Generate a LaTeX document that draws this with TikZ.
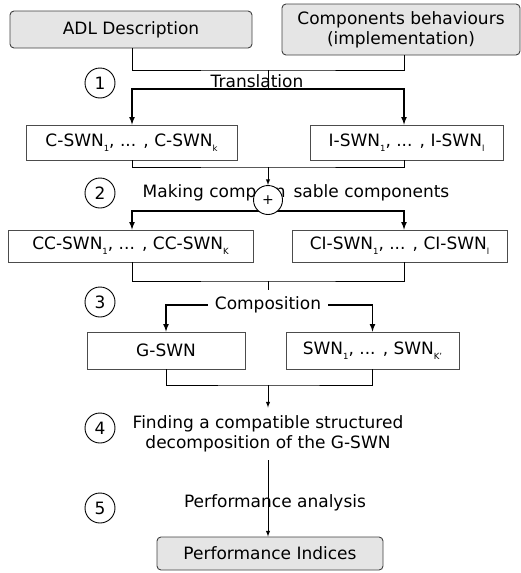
\documentclass[tikz,border=0pt]{standalone}
\usepackage{fontspec}
\setmainfont{DejaVu Sans}
\usetikzlibrary{calc}
\newcommand{\idx}[1]{\raisebox{-0.5ex}{\fontsize{8.5}{9}\selectfont #1}}

\begin{document}
\begin{tikzpicture}[
    x=1pt, y=-1pt,
    every node/.style={font=\fontsize{17}{20}\selectfont},
    io/.style={draw=black!75, fill=black!10, rounded corners=4pt, line width=0.9pt, inner sep=0pt},
    net/.style={draw=black!70, fill=white, line width=0.8pt, inner sep=0pt},
    num/.style={draw, circle, line width=0.9pt, minimum size=30pt, inner sep=0pt},
    link/.style={black, line width=0.9pt},
    arrowline/.style={black, line width=1.6pt, ->, >=latex},
    thinarrow/.style={black, line width=1pt, ->, >=latex},
    ]
    \useasboundingbox (0,0) rectangle (521,573);

    \coordinate (colL) at (132,0);
    \coordinate (colR) at (404,0);

    % step 1
    \node[io, minimum width=242pt, minimum height=37pt] (adl) at (131,29.5) {ADL Description};
    \node[io, minimum width=238pt, minimum height=51pt, align=center] (beh) at (401,29.5) {Components behaviours\\(implementation)};
    \node[num] (s1) at (100,83) {1};
    \node[anchor=base, inner sep=0pt] (trans) at (257,87) {Translation};
    \coordinate (j1) at (268,70);
    \coordinate (t1) at (268,89);
    \node[net, minimum width=211pt, minimum height=35pt] (cswn) at (131.5,142.5) {C-SWN\idx{1}, ... , C-SWN\idx{k}};
    \node[net, minimum width=193pt, minimum height=35pt] (iswn) at (406.5,142.5) {I-SWN\idx{1}, ... , I-SWN\idx{l}};

    \draw[link] (adl.south -| colL) |- (j1) -| (beh.south -| colR);
    \draw[link] (j1) -- (t1);
    \draw[arrowline] (t1) -| (colL |- cswn.north);
    \draw[arrowline] (t1) -| (colR |- iswn.north);

    % step 2
    \node[num] (s2) at (100,193) {2};
    \node[anchor=west, inner sep=0pt] (mk) at (142.5,193) {Making compo\hspace{8pt}n\hspace{8pt}sable components};
    \coordinate (j2) at (268,167);
    \coordinate (t2) at (268,211);
    \node[net, minimum width=245pt, minimum height=32pt] (ccswn) at (130.5,246) {CC-SWN\idx{1}, ... , CC-SWN\idx{K}};
    \node[net, minimum width=215pt, minimum height=32pt] (ciswn) at (399.5,246) {CI-SWN\idx{1}, ... , CI-SWN\idx{l}};

    \draw[link] (cswn.south -| colL) |- (j2) -| (iswn.south -| colR);
    \draw[arrowline] (t2) -| (colL |- ccswn.north);
    \draw[arrowline] (t2) -| (colR |- ciswn.north);
    \node[num, minimum size=29pt, fill=white, font=\fontsize{14}{14}\selectfont] (plus) at (268,200) {+};
    \draw[thinarrow] (j2) -- (plus.north);

    % step 3
    \node[num] (s3) at (100,302) {3};
    \coordinate (j3) at (268,281);
    \coordinate (t3) at (268,290);
    \node[inner xsep=7pt] (compo) at (268,305) {Composition};
    \node[net, minimum width=158pt, minimum height=37pt] (gswn) at (166,350.5) {G-SWN};
    \node[net, minimum width=173pt, minimum height=37pt] (swn) at (372.5,350.5) {SWN\idx{1}, ... , SWN\idx{K'}};

    \draw[link] (ccswn.south -| colL) |- (j3) -| (ciswn.south -| colR);
    \draw[link] (j3) -- (t3);
    \draw[arrowline] (compo.west) -| (gswn.north);
    \draw[arrowline] (compo.east) -| (swn.north);

    % step 4 and 5
    \node[num] (s4) at (100,428) {4};
    \node[num] (s5) at (100,508) {5};
    \coordinate (j4) at (268,385);
    \node[align=center, inner ysep=8pt] (find) at (268,434) {Finding a compatible structured\\decomposition of the G-SWN};
    \node (pa) at (275,503) {Performance analysis};
    \node[io, minimum width=226pt, minimum height=33pt] (perf) at (270,553.5) {Performance Indices};

    \draw[link] (gswn.south) |- (j4) -| (swn.south);
    \draw[thinarrow] (j4) -- (find.north);
    \draw[thinarrow] (find.south) -- (find.south |- perf.north);
\end{tikzpicture}
\end{document}
